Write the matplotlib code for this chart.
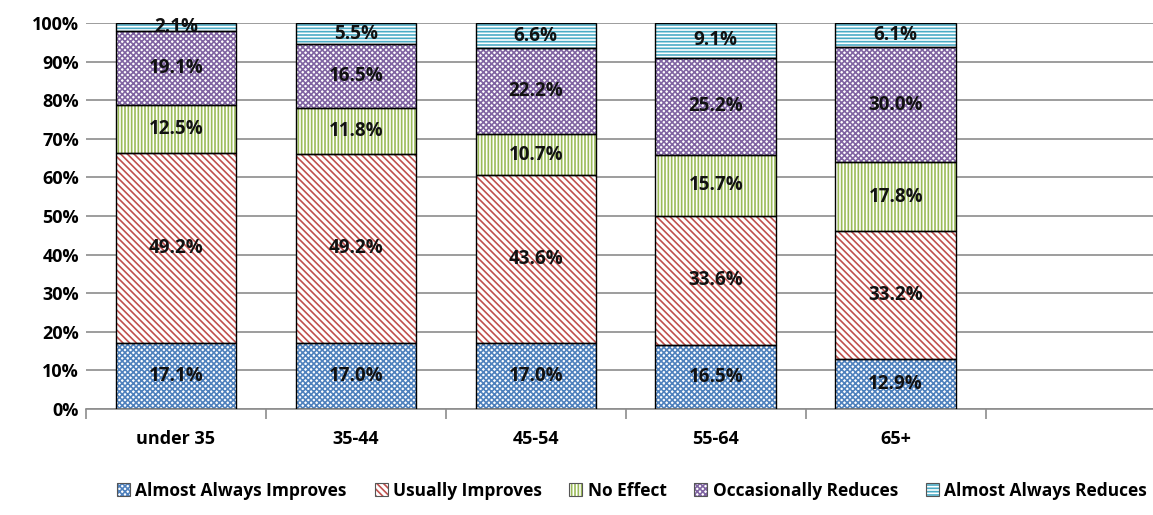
import matplotlib.pyplot as plt
from matplotlib.patches import Patch
from matplotlib.legend_handler import HandlerTuple
import numpy as np

categories = ['under 35', '35-44', '45-54', '55-64', '65+']
series_names = ['Almost Always Improves', 'Usually Improves', 'No Effect',
                'Occasionally Reduces', 'Almost Always Reduces']
almost_always_improves = [17.1, 17.0, 17.0, 16.5, 12.9]
usually_improves = [49.2, 49.2, 43.6, 33.6, 33.2]
no_effect = [12.5, 11.8, 10.7, 15.7, 17.8]
occasionally_reduces = [19.1, 16.5, 22.2, 25.2, 30.0]
almost_always_reduces = [2.1, 5.5, 6.6, 9.1, 6.1]

series = [almost_always_improves, usually_improves, no_effect,
          occasionally_reduces, almost_always_reduces]
colors = ['#4F81BD', '#C0504D', '#9BBB59', '#8064A2', '#4BACC6']
hatches = ['xxxxxx', '\\\\\\\\\\', '|||||', 'xxxxxx', '-----']

plt.rcParams['font.family'] = ['Open Sans', 'DejaVu Sans']
plt.rcParams['hatch.linewidth'] = 1.2

fig = plt.figure(figsize=(11.53, 5.15), dpi=100)
ax = fig.add_axes([0.0746, 0.206, 0.9254, 0.749])

x = np.arange(len(categories))
width = 0.67
bottom = np.zeros(len(categories))
for vals, col, h in zip(series, colors, hatches):
    vals = np.array(vals)
    ax.bar(x, vals, width, bottom=bottom, color='white', edgecolor=col,
           hatch=h, linewidth=0, zorder=2)
    ax.bar(x, vals, width, bottom=bottom, fill=False, edgecolor='black',
           linewidth=1.0, zorder=3)
    for xi, b, v in zip(x, bottom, vals):
        ax.text(xi, b + v / 2, f'{v:.1f}%', ha='center', va='center',
                fontsize=13.5, fontweight='bold', color='#111111', zorder=4)
    bottom += vals

ax.set_ylim(0, 100)
ax.set_xlim(-0.5, 5.43)
ax.set_yticks(range(0, 101, 10))
ax.set_yticklabels([f'{v}%' for v in range(0, 101, 10)], fontsize=13,
                    fontweight='bold')
ax.yaxis.grid(True, color='#8C8C8C', linewidth=1.2, zorder=0)
ax.tick_params(axis='y', length=0, pad=5)

ax.set_xticks(np.arange(-0.5, 5.0, 1.0))
ax.set_xticklabels([])
ax.set_xticks(x, minor=True)
ax.set_xticklabels(categories, minor=True, fontsize=13, fontweight='bold')
ax.tick_params(axis='x', which='major', length=7, color='#8C8C8C', width=1.2)
ax.tick_params(axis='x', which='minor', length=0, pad=15)

for s in ['top', 'right', 'left']:
    ax.spines[s].set_visible(False)
ax.spines['bottom'].set_color('#8C8C8C')
ax.spines['bottom'].set_linewidth(1.2)

handles = [(Patch(facecolor='white', edgecolor=c, hatch=h, linewidth=0),
            Patch(fill=False, edgecolor='#555555', linewidth=0.8))
           for c, h in zip(colors, hatches)]
fig.legend(handles, series_names, loc='center', bbox_to_anchor=(0.548, 0.047),
           ncol=5, frameon=False, handlelength=0.75,
           handleheight=0.75, handletextpad=0.3, columnspacing=1.6,
           handler_map={tuple: HandlerTuple(ndivide=1, pad=0)},
           prop={'weight': 'bold', 'size': 12.5})

fig.savefig('out.png', dpi=100)
